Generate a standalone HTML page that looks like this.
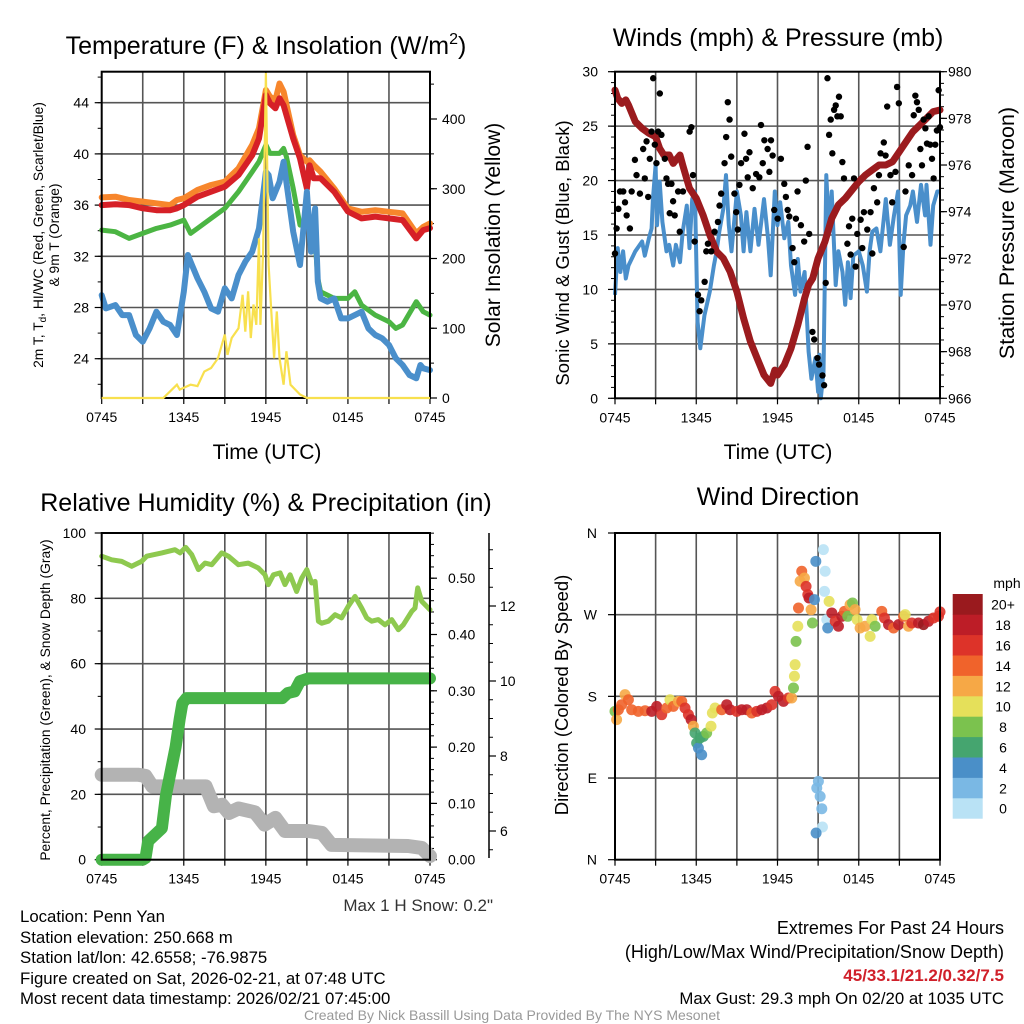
<!DOCTYPE html>
<html><head><meta charset="utf-8"><style>
html,body{margin:0;padding:0;background:#fff;}
svg{display:block;font-family:"Liberation Sans",Arial,sans-serif;}
</style></head><body>
<svg id="chart" width="1024" height="1024" viewBox="0 0 1024 1024" xmlns="http://www.w3.org/2000/svg">
<rect width="1024" height="1024" fill="#fff"/>
<text x="266" y="54" font-size="25" text-anchor="middle">Temperature (F) &amp; Insolation (W/m<tspan font-size="16" dy="-10">2</tspan><tspan dy="10">)</tspan></text>
<text x="778" y="46" font-size="25" text-anchor="middle">Winds (mph) &amp; Pressure (mb)</text>
<text x="266" y="511" font-size="25" text-anchor="middle">Relative Humidity (%) &amp; Precipitation (in)</text>
<text x="778" y="505" font-size="25" text-anchor="middle">Wind Direction</text>
<text transform="translate(43,235) rotate(-90)" font-size="13.8" text-anchor="middle">2m T, T<tspan font-size="10" dy="3">d</tspan><tspan dy="-3">, HI/WC (Red, Green, Scarlet/Blue)</tspan></text>
<text transform="translate(59,235) rotate(-90)" font-size="13.8" text-anchor="middle">&amp; 9m T (Orange)</text>
<text transform="translate(500,235) rotate(-90)" font-size="21" text-anchor="middle">Solar Insolation (Yellow)</text>
<text transform="translate(569,253) rotate(-90)" font-size="18.5" text-anchor="middle">Sonic Wind &amp; Gust (Blue, Black)</text>
<text transform="translate(1014,233) rotate(-90)" font-size="21.5" text-anchor="middle">Station Pressure (Maroon)</text>
<text transform="translate(50,700) rotate(-90)" font-size="13.8" text-anchor="middle">Percent, Precipitation (Green), &amp; Snow Depth (Gray)</text>
<text transform="translate(568,695) rotate(-90)" font-size="18.5" text-anchor="middle">Direction (Colored By Speed)</text>
<text x="267" y="459" font-size="21" text-anchor="middle">Time (UTC)</text>
<text x="778" y="459" font-size="21" text-anchor="middle">Time (UTC)</text>
<text x="493" y="911" font-size="17" text-anchor="end" fill="#333">Max 1 H Snow: 0.2"</text>
<g font-size="16.8">
<text x="20" y="922">Location: Penn Yan</text>
<text x="20" y="943">Station elevation: 250.668 m</text>
<text x="20" y="963">Station lat/lon: 42.6558; -76.9875</text>
<text x="20" y="984">Figure created on Sat, 2026-02-21, at 07:48 UTC</text>
<text x="20" y="1004">Most recent data timestamp: 2026/02/21 07:45:00</text>
</g>
<g font-size="18" text-anchor="end">
<text x="1004" y="934">Extremes For Past 24 Hours</text>
<text x="1004" y="958">(High/Low/Max Wind/Precipitation/Snow Depth)</text>
<text x="1004" y="981" fill="#d0202a" font-weight="bold" font-size="17">45/33.1/21.2/0.32/7.5</text>
<text x="1004" y="1004" font-size="16.8">Max Gust: 29.3 mph On 02/20 at 1035 UTC</text>
</g>
<text x="512" y="1020" font-size="14" fill="#999" text-anchor="middle">Created By Nick Bassill Using Data Provided By The NYS Mesonet</text>
<g id="layer"></g>
</svg>
<script>
// ---- Panel 1 data ----
const tempTimes=[0,1,2,3,4,5,5.5,6,7,8,9,10,11,11.5,12,12.3,12.7,13,13.3,14,14.5,15,15.2,15.5,16,17,18,19,20,21,22,23,23.5,24];
const tempRed=[36.0,36.06,36.0,35.75,35.6,35.6,35.75,36.0,36.66,37.05,37.44,38.35,39.9,41.2,44.6,43.95,43.56,44.34,43.8,41.2,39.65,37.3,39.1,38.1,38.1,37.05,35.5,34.96,35.1,34.96,34.83,33.4,34.05,34.2];
const tempOrange=[36.6,36.66,36.4,36.27,36.14,36.0,36.4,36.53,37.18,37.57,37.83,38.87,40.7,42.0,44.99,44.47,44.2,45.5,44.86,41.47,39.9,39.39,39.5,39.13,38.6,37.3,35.74,35.48,35.6,35.48,35.35,33.8,34.3,34.57];
const dewTimes=[0,1,2,3,4,5,6,6.5,7,8,9,10,11,11.5,12,12.3,13,13.3,13.5,14,14.5,15,15.5,15.8,16,17,18,18.5,19,20,21,21.5,22,23,23.5,24];
const dewGreen=[34.05,33.92,33.4,33.79,34.18,34.44,34.83,33.79,34.18,34.96,35.74,37.05,38.6,39.39,40.7,40.04,40.04,40.43,39.78,37.31,34.44,34.7,34.7,30.28,29.23,28.71,28.71,29.23,28.19,27.41,26.89,26.37,26.63,28.45,27.67,27.41];
const chillTimes=[0,0.3,1,1.5,2,2.5,3,3.5,4,4.5,5,5.5,6,6.3,6.5,7,7.5,8,8.5,9,9.5,10,10.5,11,11.5,12,12.2,12.5,13,13.3,13.6,14,14.5,15,15.3,15.6,15.8,16,16.5,17,17.5,18,18.5,19,19.5,20,20.5,21,21.5,22,22.5,23,23.3,23.5,24];
const chillBlue=[28.97,27.93,28.19,27.41,27.41,25.85,25.33,26.37,27.67,26.89,26.63,25.85,29.23,32.1,31.58,30.28,29.23,27.93,27.67,29.5,28.71,30.54,31.58,32.36,34.18,38.6,38.35,36.53,37.83,39.39,37.05,33.92,31.32,37.05,32.36,35.74,30.02,28.71,28.45,28.71,27.15,27.15,27.41,27.67,26.37,25.85,25.59,25.07,24.03,23.51,22.73,22.47,23.51,23.25,23.11];
const solarTimes=[0,4.5,5.5,5.7,6.5,7,7.5,8,8.5,9,9.2,9.5,10,10.3,10.5,10.7,10.9,11.1,11.3,11.5,11.6,11.8,12,12.2,12.4,12.6,12.8,13,13.3,13.5,13.8,14.5,15,24];
const solarVals=[0,0,19,12,19,17,38,43,57,91,62,86,100,148,95,153,86,134,105,229,105,210,468,191,124,57,124,57,19,67,19,5,0,0];
const tempTicks=[24,28,32,36,40,44];
const solarTicks=[0,100,200,300,400];
const timeTickLabels=["0745","1345","1945","0145","0745"];
// ---- Panel 2 data ----
const windTimes=[0,0.2,0.4,0.6,0.8,1,1.5,2,2.2,2.5,2.7,2.8,3,3.1,3.3,3.5,3.8,4,4.3,4.5,4.8,5,5.3,5.5,5.7,5.9,6.1,6.3,6.6,7,7.3,7.5,7.7,8,8.2,8.4,8.6,9,9.3,9.5,9.7,10,10.3,10.6,11,11.3,11.5,11.8,12,12.2,12.5,12.8,13,13.3,13.5,13.7,14,14.3,14.5,14.8,15,15.1,15.2,15.4,15.6,15.8,16,16.3,16.5,16.8,17,17.2,17.4,17.6,18,18.3,18.6,18.8,19,19.3,19.6,20,20.3,20.6,20.9,21.1,21.3,21.5,21.8,22,22.3,22.6,22.9,23,23.3,23.5,23.8,24];
const windSpeeds=[9.5,13.8,11.6,13.5,11.0,12.2,13.5,14.4,13.1,14.7,15.6,18.3,21.4,15.9,19.9,16.2,13.5,14.1,12.2,14.1,12.5,15.3,17.7,13.8,18.3,19.0,7.0,4.6,7.6,9.8,12.2,13.5,15.3,17.4,20.5,15.9,13.5,19.0,16.8,13.5,17.1,13.5,17.4,14.1,18.3,14.7,11.3,19.0,15.9,18.0,14.7,16.2,12.2,9.5,12.8,9.8,11.6,4.3,1.8,3.7,0.6,4.0,0,2.4,20.5,15.3,19.0,10.4,13.5,11.6,8.6,12.5,9.2,13.1,13.5,12.2,9.8,13.5,15.3,15.6,13.5,18.3,14.1,16.8,19.0,9.5,14.1,16.8,17.7,19.0,16.2,19.6,16.8,19.6,14.1,17.7,19.0,19.0];
const gustTimes=[0,0.12,0.37,0.61,0.25,0.86,1.1,0.74,1.23,1.47,1.59,1.84,2.08,2.2,2.33,2.45,2.57,2.7,2.82,2.94,3.06,3.19,3.31,3.43,3.68,3.8,3.92,4.04,4.17,4.29,4.41,4.66,4.78,5.02,5.51,5.64,5.76,5.88,6.13,6.25,6.37,6.62,6.74,6.86,7.11,7.35,7.6,7.72,7.84,8.09,8.21,8.33,8.46,8.58,8.82,8.95,9.07,9.19,9.31,9.56,9.68,9.8,9.93,10.17,10.42,10.66,10.78,10.91,11.03,11.27,11.4,11.52,11.64,11.76,12.01,12.25,12.5,12.62,12.75,12.87,13.11,13.24,13.36,13.48,13.73,13.97,14.09,14.22,14.34,14.58,14.71,14.95,15.07,15.32,15.44,15.56,15.69,15.81,15.93,16.05,16.18,16.3,16.42,16.54,16.67,16.79,16.91,17.16,17.28,17.4,17.52,17.65,17.77,17.89,18.14,18.26,18.38,18.63,18.87,19.0,19.12,19.36,19.49,19.61,19.85,19.98,20.1,20.34,20.47,20.71,20.83,20.96,21.32,21.45,21.69,21.94,22.06,22.18,22.3,22.43,22.55,22.67,22.79,22.92,23.04,23.16,23.28,23.41,23.53,23.65,23.77,23.9,24.0];
const gustSpeeds=[13.3,15.6,19.0,19.0,17.4,16.8,15.6,18.0,19.0,21.9,20.5,18.8,22.9,20.2,23.6,18.5,22.0,24.5,29.4,23.3,21.6,24.5,28.0,24.2,22.0,20.2,19.7,17.0,19.7,18.1,16.8,19.0,15.3,19.0,24.5,24.9,20.5,14.4,9.5,8.0,9.0,10.7,13.5,14.2,13.5,15.3,16.2,17.7,18.8,21.6,24.0,27.2,25.6,22.2,18.8,17.1,15.5,19.6,21.6,24.3,22.0,20.3,22.6,19.3,20.6,20.3,25.1,21.6,23.7,22.9,20.8,23.7,22.3,17.3,16.5,22.0,19.7,18.5,17.3,16.7,13.8,12.5,16.5,19.0,15.9,14.4,20.0,23.1,15.1,6.1,5.4,3.7,3.1,2.1,1.2,10.6,29.4,24.2,25.6,22.5,26.5,26.9,25.9,27.7,25.9,21.7,20.2,14.2,15.8,13.2,16.5,20.2,12.1,15.1,16.4,13.8,17.1,15.5,17.1,13.3,19.3,18.0,20.5,22.5,23.5,22.3,26.8,20.5,18.0,20.8,28.6,27.1,13.9,19.0,21.4,20.5,26.0,27.8,27.2,26.5,22.9,21.4,25.6,24.8,23.4,25.9,23.3,22.0,20.2,23.3,24.6,28.3,24.9];
const presTimes=[0,0.2,0.5,0.8,1,1.5,2,2.5,3,3.3,3.6,4,4.3,4.6,4.8,5,5.5,6,6.5,7,7.5,8,8.5,9,9.5,10,10.5,11,11.5,11.8,12,12.5,13,13.5,14,14.3,14.6,15,15.5,16,16.5,17,17.5,18,18.5,19,19.5,20,20.5,21,21.5,22,22.5,23,23.5,24];
const presVals=[979.21,978.86,978.64,978.79,978.57,977.86,977.57,977.36,977.21,976.71,976.43,976.43,976.07,976.29,976.43,976.0,975.0,974.57,973.86,973.0,972.29,972.0,971.43,970.57,969.43,968.43,967.71,967.0,966.64,967.21,967.0,967.43,968.14,969.14,970.29,970.86,971.14,972.0,972.71,973.71,974.29,974.57,974.93,975.29,975.57,975.79,976.0,976.0,976.14,976.57,977.0,977.43,977.71,978.0,978.29,978.36];
const windTicks=[0,5,10,15,20,25,30];
const presTicks=[966,968,970,972,974,976,978,980];
// ---- Panel 3 data ----
const rhTimes=[0,0.73,1.46,2.19,2.92,3.29,4.39,5.36,5.73,6.14,6.58,7.07,7.55,8.04,8.77,9.26,9.99,10.72,11.45,11.94,12.18,12.55,13.04,13.4,13.77,14.25,14.62,14.99,15.35,15.6,15.84,16.08,16.57,17.06,17.54,18.03,18.52,19.01,19.37,19.74,20.22,20.71,21.2,21.69,22.05,22.66,22.9,23.1,23.39,24.0];
const rhVals=[92.9,91.8,91.3,89.8,91.3,92.9,93.9,94.9,93.9,95.6,93.4,88.8,90.8,90.3,93.9,92.9,90.3,90.8,89.3,87.2,84.2,87.2,87.8,84.2,87.2,82.1,86.2,88.8,84.7,85.2,73.0,72.4,73.0,75.0,74.0,77.6,80.6,77.0,74.0,73.0,73.5,71.9,73.5,70.4,71.9,76.0,77.0,83.2,79.1,76.5];
const precipTimes=[0,3.0,3.2,3.4,4.4,4.7,5.4,5.7,5.9,6.2,13.2,13.6,14.1,14.5,15.1,24];
const precipVals=[0,0,0.003,0.033,0.056,0.115,0.2,0.25,0.278,0.287,0.287,0.296,0.299,0.317,0.322,0.322];
const snowTimes=[0,2.7,3.2,3.7,7.6,8.2,8.8,9.3,10.0,11.2,11.9,12.7,13.4,15.1,16.1,16.8,22.4,23.4,24];
const snowVals=[7.5,7.5,7.47,7.19,7.19,6.66,6.7,6.48,6.6,6.5,6.17,6.35,6.0,6.0,5.95,5.63,5.6,5.55,5.33];
const pctTicks=[0,20,40,60,80,100];
const precipTicks=[0,0.1,0.2,0.3,0.4,0.5];
const precipTickLabels=["0.00","0.10","0.20","0.30","0.40","0.50"];
const snowTicks=[6,8,10,12];
// ---- Panel 4 data ----
const dirTimes=[0,0.12,0.25,0.49,0.74,0.99,1.23,1.72,2.22,2.71,3.08,3.45,3.82,4.06,4.31,4.68,4.93,5.17,5.42,5.62,5.79,5.91,6.03,6.16,6.4,6.28,6.53,6.77,7.09,7.19,7.39,7.88,8.25,8.5,8.99,9.36,9.73,10.1,10.47,10.84,11.21,11.58,11.82,12.07,12.44,12.81,13.05,13.18,13.25,13.3,13.37,13.5,13.55,13.67,13.79,13.99,14.11,14.24,14.33,14.48,14.58,14.73,14.83,15.39,15.52,15.47,15.81,15.64,15.71,16.01,16.26,16.5,16.75,16.95,17.19,17.36,17.54,17.73,17.88,18.1,18.47,18.84,18.97,19.21,19.7,19.9,20.2,20.57,20.94,21.31,21.43,21.67,21.92,22.41,22.78,23.15,23.52,23.89,24.0,15.02,14.9,15.15,15.27,15.32,14.85];
const dirDegrees=[163.5,154.3,165.3,170.8,181.9,176.3,165.3,163.5,164.2,163.5,169.0,159.8,167.2,176.3,169.0,174.5,174.5,167.2,159.8,154.3,147.0,139.6,128.6,123.1,115.7,134.1,135.9,139.6,147.0,161.6,167.2,165.3,170.8,165.3,163.5,165.3,165.3,161.6,163.5,165.3,167.2,170.8,185.5,180.0,174.5,178.2,178.2,189.2,202.1,214.9,240.6,257.2,277.4,306.8,317.8,310.4,301.2,292.1,288.4,275.5,260.8,286.6,328.8,341.7,317.8,295.7,284.7,264.5,255.3,271.9,262.7,257.2,268.2,273.7,268.2,281.0,282.9,275.5,264.5,255.3,257.2,246.1,264.5,257.2,273.7,266.4,259.0,255.3,259.0,268.2,270.0,257.2,260.8,260.8,259.0,262.7,266.4,268.2,273.1,86.3,79.0,69.8,56.2,36.0,29.4];
const dirSpeeds=[9,13,15,15,13,15,15,15,15,19,19,17,15,11,15,13,15,17,17,19,13,7,7,5,5,7,7,9,11,11,11,15,19,19,17,19,19,15,17,19,19,17,17,19,19,17,13,9,11,11,9,11,15,13,15,13,17,17,19,13,9,5,5,1,1,1,11,1,5,19,17,19,19,15,9,13,9,13,11,13,13,11,11,9,15,17,19,15,19,15,11,13,17,19,21,19,17,17,17,3,3,3,3,1,5];
const speedBins=[0,2,4,6,8,10,12,14,16,18,20];
const speedBinLabels=["0","2","4","6","8","10","12","14","16","18","20+"];
const speedColors=["#b9e2f5","#7ab8e4","#4a8fc8","#45a56f","#7bc24e","#e5e05a","#f6a846","#f0632b","#dd3329","#bd1d27","#9a1a1e"];
const dirTicks=[0,90,180,270,360];
const dirTickLabels=["N","E","S","W","N"];

const NS="http://www.w3.org/2000/svg";
const layer=document.getElementById('layer');
function mk(tag,attrs,parent){const e=document.createElementNS(NS,tag);for(const k in attrs)e.setAttribute(k,attrs[k]);(parent||layer).appendChild(e);return e;}
function linScale(d0,d1,r0,r1){return v=>r0+(v-d0)*(r1-r0)/(d1-d0);}
function pathOf(ts,vs,xf,yf){return ts.map((t,i)=>(i?'L':'M')+xf(t).toFixed(1)+','+yf(vs[i]).toFixed(1)).join('');}

function panelFrame(name,L,R,T,B,xf,gy){
  const g=mk('g',{});
  
  
  for(let h=3;h<24;h+=3){const l=mk('line',{x1:xf(h),x2:xf(h),y1:T,y2:B,stroke:'#555','stroke-width':1.6},g);
    
    }
  gy.forEach(y=>{const l=mk('line',{x1:L,x2:R,y1:y,y2:y,stroke:'#555','stroke-width':1.6},g);
    
    });
  for(let h=0;h<=24;h+=3){mk('line',{x1:xf(h),x2:xf(h),y1:B,y2:B+6,stroke:'#000','stroke-width':1.2},g);}
  timeTickLabels.forEach((s,i)=>{const t=mk('text',{x:xf(i*6),y:B+24,'font-size':14,'text-anchor':'middle'},g);t.textContent=s;
    
    });
  return g;
}
function frameRect(L,R,T,B,name){const r=mk('rect',{x:L,y:T,width:R-L,height:B-T,fill:'none',stroke:'#000','stroke-width':2});
  
  }
function yAxisTicks(x,dir,ticks,labels,yf,minorStep,lo,hi,labelX,anchor,name){
  ticks.forEach((v,i)=>{mk('line',{x1:x,x2:x+dir*7,y1:yf(v),y2:yf(v),stroke:'#000','stroke-width':1.2});
    const t=mk('text',{x:labelX,y:yf(v)+5,'font-size':14,'text-anchor':anchor});t.textContent=labels[i];
    
    });
  if(minorStep){for(let v=lo;v<=hi+1e-9;v+=minorStep){mk('line',{x1:x,x2:x+dir*4,y1:yf(v),y2:yf(v),stroke:'#000','stroke-width':1});}}
}

// ===== Panel 1 =====
{const L=101.7,R=430,T=71.7,B=398;
 const x=linScale(0,24,L,R), yT=linScale(44,24,102.7,358.7), yS=linScale(0,400,B,119);
 panelFrame('temperature',L,R,T,B,x,tempTicks.map(yT));
 yAxisTicks(L,-1,tempTicks,tempTicks.map(String),yT,2,22,46,89,'end','temperature-y');
 yAxisTicks(R,1,solarTicks,solarTicks.map(String),yS,50,0,450,442,'start','insolation-y');
 const s=[['orange-9m-temp-line',tempTimes,tempOrange,'#f7862c',6],['red-2m-temp-line',tempTimes,tempRed,'#d62027',6],['green-dewpoint-line',dewTimes,dewGreen,'#4bb543',5],['blue-windchill-line',chillTimes,chillBlue,'#4a8fcb',6]];
 s.forEach(a=>{const p=mk('path',{d:pathOf(a[1],a[2],x,yT),fill:'none',stroke:a[3],'stroke-width':a[4],'stroke-linejoin':'round','stroke-linecap':'round'});
   
   });
 frameRect(L,R,T,B,'temperature');
 const sp=mk('path',{d:pathOf(solarTimes,solarVals.map(v=>Math.min(v,466)),x,yS),fill:'none',stroke:'#f8e04e','stroke-width':2.2});
 
 }

// ===== Panel 2 =====
{const L=615,R=940,T=71.7,B=398.3;
 const x=linScale(0,24,L,R), yW=linScale(0,30,B,T), yP=linScale(966,980,B,T);
 panelFrame('winds',L,R,T,B,x,windTicks.slice(1,6).map(yW));
 yAxisTicks(L,-1,windTicks,windTicks.map(String),yW,1,0,30,598,'end','wind-y');
 yAxisTicks(R,1,presTicks,presTicks.map(String),yP,0.5,966,980,948,'start','pressure-y');
 const wp=mk('path',{d:pathOf(windTimes,windSpeeds,x,yW),fill:'none',stroke:'#4a8fcb','stroke-width':4,'stroke-linejoin':'round'});
 
 
 const pp=mk('path',{d:pathOf(presTimes,presVals,x,yP),fill:'none',stroke:'#9b1b1e','stroke-width':7,'stroke-linejoin':'round','stroke-linecap':'round'});
 
 
 gustTimes.forEach((t,i)=>{const c=mk('circle',{cx:x(t),cy:yW(gustSpeeds[i]),r:3.2,fill:'#000'});
   
   });
 frameRect(L,R,T,B,'winds');}

// ===== Panel 3 =====
{const L=101.7,R=430,T=533,B=859.7;
 const x=linScale(0,24,L,R), yH=linScale(0,100,B,T), yPr=linScale(0,0.5,B,578.2), ySn=linScale(6,12,831,606);
 panelFrame('humidity',L,R,T,B,x,pctTicks.slice(1,5).map(yH));
 yAxisTicks(L,-1,pctTicks,pctTicks.map(String),yH,10,0,100,86,'end','percent-y');
 yAxisTicks(R,1,precipTicks,precipTickLabels,yPr,0.02,0,0.58,448,'start','precip-y');
 const ax=mk('line',{x1:489,x2:489,y1:533,y2:858,stroke:'#000','stroke-width':1.5});
 
 
 yAxisTicks(489,1,snowTicks,snowTicks.map(String),ySn,0.5,5.5,13.5,500,'start','snow-y');
 const gp=mk('path',{d:pathOf(snowTimes,snowVals,x,ySn),fill:'none',stroke:'#b3b3b3','stroke-width':14,'stroke-linejoin':'round','stroke-linecap':'round'});
 
 
 const prp=mk('path',{d:pathOf(precipTimes,precipVals,x,yPr),fill:'none',stroke:'#47b348','stroke-width':12,'stroke-linejoin':'round','stroke-linecap':'round'});
 
 
 const rp=mk('path',{d:pathOf(rhTimes,rhVals,x,yH),fill:'none',stroke:'#8ec94f','stroke-width':5,'stroke-linejoin':'round','stroke-linecap':'round'});
 
 
 frameRect(L,R,T,B,'humidity');}

// ===== Panel 4 =====
{const L=615,R=940,T=533,B=859.7;
 const x=linScale(0,24,L,R), yD=linScale(0,360,B,T);
 panelFrame('direction',L,R,T,B,x,[90,180,270].map(yD));
 yAxisTicks(L,-1,dirTicks,dirTickLabels,yD,0,0,0,597,'end','direction-y');
 function colorFor(s){let k=0;speedBins.forEach((b,i)=>{if(s>=b)k=i;});return speedColors[k];}
 dirTimes.forEach((t,i)=>{const c=mk('circle',{cx:x(t),cy:yD(dirDegrees[i]),r:5.5,fill:colorFor(dirSpeeds[i]),'fill-opacity':0.9});
   
   });
 frameRect(L,R,T,B,'direction');
 const bh=20.4, top=594;
 speedColors.forEach((c,i)=>{const yy=top+(speedColors.length-1-i)*bh;
   const r=mk('rect',{x:952.7,y:yy,width:30,height:bh+0.3,fill:c});
   
   
   const t=mk('text',{x:1003,y:yy+bh/2+5.5,'font-size':14,'text-anchor':'middle'});t.textContent=speedBinLabels[i];
   
   });
 const u=mk('text',{x:1007,y:588,'font-size':14,'text-anchor':'middle'});u.textContent='mph';
 
 }
</script>
</body></html>
